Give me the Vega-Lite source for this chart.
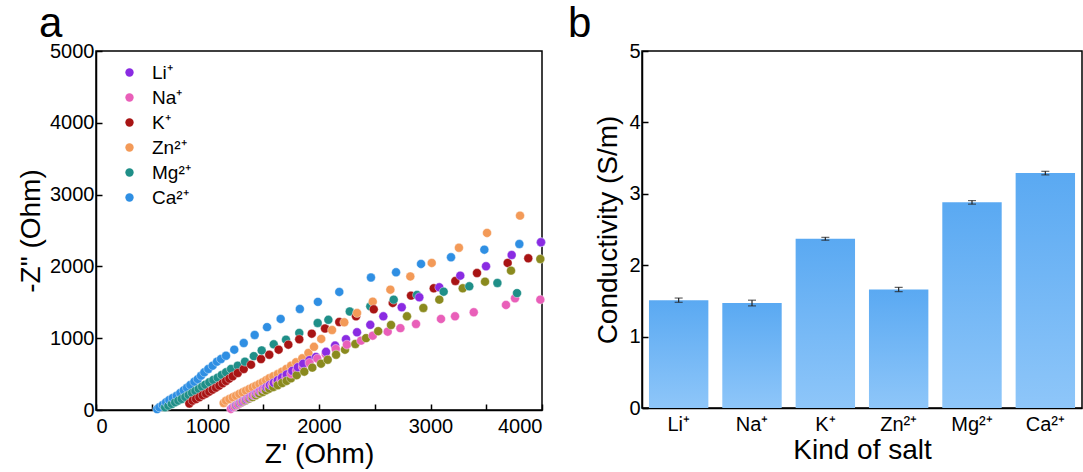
{
  "$schema": "https://vega.github.io/schema/vega-lite/v6.json",
  "background": "white",
  "autosize": {"type": "pad"},
  "padding": {"left": 16, "top": 2, "right": 0, "bottom": 0},
  "spacing": 100,
  "bounds": "flush",
  "config": {
    "font": "Liberation Sans",
    "view": {"stroke": "black", "strokeWidth": 1.5},
    "axis": {"zindex": 1, "domainColor": "black", "domainWidth": 1.5, "tickColor": "black", "tickWidth": 1.5, "tickSize": -6, "labelColor": "black", "labelFontSize": 20, "titleFontSize": 28, "titleFontWeight": "normal", "titleColor": "black", "grid": false, "labelPadding": 8},
    "axisX": {"labelPadding": 12},
    "title": {"fontSize": 42, "fontWeight": "normal", "color": "black", "anchor": "start", "frame": "group"}
  },
  "hconcat": [
    {
      "width": 446,
      "height": 359,
      "title": {"text": "a", "dx": -57, "offset": -5},
      "data": {"values": [
        {"ion":"Ca²⁺","zr":548,"zi":12},{"ion":"Ca²⁺","zr":568,"zi":38},{"ion":"Ca²⁺","zr":598,"zi":70},{"ion":"Ca²⁺","zr":628,"zi":107},{"ion":"Ca²⁺","zr":657,"zi":139},{"ion":"Ca²⁺","zr":688,"zi":167},{"ion":"Ca²⁺","zr":724,"zi":199},{"ion":"Ca²⁺","zr":756,"zi":237},{"ion":"Ca²⁺","zr":787,"zi":274},{"ion":"Ca²⁺","zr":816,"zi":311},{"ion":"Ca²⁺","zr":846,"zi":348},{"ion":"Ca²⁺","zr":882,"zi":394},{"ion":"Ca²⁺","zr":912,"zi":430},{"ion":"Ca²⁺","zr":942,"zi":478},{"ion":"Ca²⁺","zr":971,"zi":525},{"ion":"Ca²⁺","zr":1007,"zi":571},{"ion":"Ca²⁺","zr":1046,"zi":617},{"ion":"Ca²⁺","zr":1085,"zi":673},{"ion":"Ca²⁺","zr":1121,"zi":710},{"ion":"Ca²⁺","zr":1166,"zi":756},{"ion":"Ca²⁺","zr":1240,"zi":840},{"ion":"Ca²⁺","zr":1325,"zi":933},{"ion":"Ca²⁺","zr":1423,"zi":1045},{"ion":"Ca²⁺","zr":1534,"zi":1154},{"ion":"Ca²⁺","zr":1656,"zi":1268},{"ion":"Ca²⁺","zr":1828,"zi":1407},{"ion":"Ca²⁺","zr":1990,"zi":1506},{"ion":"Ca²⁺","zr":2182,"zi":1644},{"ion":"Ca²⁺","zr":2466,"zi":1845},{"ion":"Ca²⁺","zr":2691,"zi":1918},{"ion":"Ca²⁺","zr":2915,"zi":2034},{"ion":"Ca²⁺","zr":3184,"zi":2127},{"ion":"Ca²⁺","zr":3483,"zi":2233},{"ion":"Ca²⁺","zr":3797,"zi":2312},{"ion":"Ca²⁺","zr":3991,"zi":2336},
        {"ion":"Mg²⁺","zr":619,"zi":38},{"ion":"Mg²⁺","zr":649,"zi":60},{"ion":"Mg²⁺","zr":679,"zi":84},{"ion":"Mg²⁺","zr":709,"zi":107},{"ion":"Mg²⁺","zr":738,"zi":130},{"ion":"Mg²⁺","zr":768,"zi":153},{"ion":"Mg²⁺","zr":801,"zi":181},{"ion":"Mg²⁺","zr":831,"zi":209},{"ion":"Mg²⁺","zr":861,"zi":237},{"ion":"Mg²⁺","zr":891,"zi":265},{"ion":"Mg²⁺","zr":921,"zi":293},{"ion":"Mg²⁺","zr":951,"zi":325},{"ion":"Mg²⁺","zr":980,"zi":353},{"ion":"Mg²⁺","zr":1016,"zi":386},{"ion":"Mg²⁺","zr":1052,"zi":418},{"ion":"Mg²⁺","zr":1091,"zi":450},{"ion":"Mg²⁺","zr":1127,"zi":488},{"ion":"Mg²⁺","zr":1166,"zi":525},{"ion":"Mg²⁺","zr":1211,"zi":571},{"ion":"Mg²⁺","zr":1271,"zi":617},{"ion":"Mg²⁺","zr":1336,"zi":673},{"ion":"Mg²⁺","zr":1415,"zi":750},{"ion":"Mg²⁺","zr":1486,"zi":830},{"ion":"Mg²⁺","zr":1594,"zi":915},{"ion":"Mg²⁺","zr":1704,"zi":979},{"ion":"Mg²⁺","zr":1823,"zi":1073},{"ion":"Mg²⁺","zr":1988,"zi":1212},{"ion":"Mg²⁺","zr":2084,"zi":1256},{"ion":"Mg²⁺","zr":2276,"zi":1372},{"ion":"Mg²⁺","zr":2460,"zi":1444},{"ion":"Mg²⁺","zr":2670,"zi":1537},{"ion":"Mg²⁺","zr":2879,"zi":1602},{"ion":"Mg²⁺","zr":3118,"zi":1648},{"ion":"Mg²⁺","zr":3348,"zi":1723},{"ion":"Mg²⁺","zr":3600,"zi":1769},{"ion":"Mg²⁺","zr":3776,"zi":1628},
        {"ion":"K⁺","zr":837,"zi":90},{"ion":"K⁺","zr":867,"zi":130},{"ion":"K⁺","zr":897,"zi":153},{"ion":"K⁺","zr":927,"zi":177},{"ion":"K⁺","zr":957,"zi":205},{"ion":"K⁺","zr":987,"zi":227},{"ion":"K⁺","zr":1016,"zi":255},{"ion":"K⁺","zr":1046,"zi":283},{"ion":"K⁺","zr":1076,"zi":311},{"ion":"K⁺","zr":1106,"zi":339},{"ion":"K⁺","zr":1136,"zi":372},{"ion":"K⁺","zr":1166,"zi":404},{"ion":"K⁺","zr":1196,"zi":436},{"ion":"K⁺","zr":1226,"zi":469},{"ion":"K⁺","zr":1271,"zi":515},{"ion":"K⁺","zr":1325,"zi":571},{"ion":"K⁺","zr":1390,"zi":631},{"ion":"K⁺","zr":1480,"zi":710},{"ion":"K⁺","zr":1554,"zi":770},{"ion":"K⁺","zr":1638,"zi":840},{"ion":"K⁺","zr":1725,"zi":910},{"ion":"K⁺","zr":1823,"zi":985},{"ion":"K⁺","zr":1935,"zi":1063},{"ion":"K⁺","zr":2054,"zi":1135},{"ion":"K⁺","zr":2182,"zi":1226},{"ion":"K⁺","zr":2332,"zi":1305},{"ion":"K⁺","zr":2491,"zi":1402},{"ion":"K⁺","zr":2661,"zi":1491},{"ion":"K⁺","zr":2825,"zi":1593},{"ion":"K⁺","zr":3029,"zi":1695},{"ion":"K⁺","zr":3223,"zi":1797},{"ion":"K⁺","zr":3417,"zi":1908},{"ion":"K⁺","zr":3692,"zi":2048},{"ion":"K⁺","zr":3877,"zi":2113},
        {"ion":"Zn²⁺","zr":1145,"zi":98},{"ion":"Zn²⁺","zr":1166,"zi":130},{"ion":"Zn²⁺","zr":1196,"zi":153},{"ion":"Zn²⁺","zr":1226,"zi":177},{"ion":"Zn²⁺","zr":1256,"zi":199},{"ion":"Zn²⁺","zr":1285,"zi":223},{"ion":"Zn²⁺","zr":1315,"zi":246},{"ion":"Zn²⁺","zr":1345,"zi":269},{"ion":"Zn²⁺","zr":1375,"zi":293},{"ion":"Zn²⁺","zr":1405,"zi":316},{"ion":"Zn²⁺","zr":1435,"zi":339},{"ion":"Zn²⁺","zr":1465,"zi":362},{"ion":"Zn²⁺","zr":1495,"zi":386},{"ion":"Zn²⁺","zr":1525,"zi":414},{"ion":"Zn²⁺","zr":1554,"zi":442},{"ion":"Zn²⁺","zr":1590,"zi":469},{"ion":"Zn²⁺","zr":1630,"zi":501},{"ion":"Zn²⁺","zr":1668,"zi":534},{"ion":"Zn²⁺","zr":1707,"zi":571},{"ion":"Zn²⁺","zr":1749,"zi":617},{"ion":"Zn²⁺","zr":1794,"zi":664},{"ion":"Zn²⁺","zr":1850,"zi":720},{"ion":"Zn²⁺","zr":1905,"zi":794},{"ion":"Zn²⁺","zr":1955,"zi":880},{"ion":"Zn²⁺","zr":2020,"zi":990},{"ion":"Zn²⁺","zr":2117,"zi":1114},{"ion":"Zn²⁺","zr":2227,"zi":1221},{"ion":"Zn²⁺","zr":2341,"zi":1351},{"ion":"Zn²⁺","zr":2482,"zi":1509},{"ion":"Zn²⁺","zr":2640,"zi":1676},{"ion":"Zn²⁺","zr":2819,"zi":1860},{"ion":"Zn²⁺","zr":3011,"zi":2048},{"ion":"Zn²⁺","zr":3255,"zi":2260},{"ion":"Zn²⁺","zr":3507,"zi":2466},{"ion":"Zn²⁺","zr":3803,"zi":2707},
        {"ion":"Li⁺","zr":1230,"zi":40},{"ion":"Li⁺","zr":1260,"zi":68},{"ion":"Li⁺","zr":1290,"zi":95},{"ion":"Li⁺","zr":1320,"zi":122},{"ion":"Li⁺","zr":1350,"zi":150},{"ion":"Li⁺","zr":1380,"zi":178},{"ion":"Li⁺","zr":1410,"zi":205},{"ion":"Li⁺","zr":1440,"zi":232},{"ion":"Li⁺","zr":1470,"zi":262},{"ion":"Li⁺","zr":1500,"zi":290},{"ion":"Li⁺","zr":1530,"zi":318},{"ion":"Li⁺","zr":1560,"zi":348},{"ion":"Li⁺","zr":1595,"zi":380},{"ion":"Li⁺","zr":1630,"zi":415},{"ion":"Li⁺","zr":1668,"zi":452},{"ion":"Li⁺","zr":1710,"zi":495},{"ion":"Li⁺","zr":1760,"zi":545},{"ion":"Li⁺","zr":1810,"zi":596},{"ion":"Li⁺","zr":1858,"zi":645},{"ion":"Li⁺","zr":1915,"zi":695},{"ion":"Li⁺","zr":1973,"zi":740},{"ion":"Li⁺","zr":2063,"zi":810},{"ion":"Li⁺","zr":2144,"zi":897},{"ion":"Li⁺","zr":2242,"zi":985},{"ion":"Li⁺","zr":2341,"zi":1082},{"ion":"Li⁺","zr":2460,"zi":1186},{"ion":"Li⁺","zr":2577,"zi":1305},{"ion":"Li⁺","zr":2742,"zi":1431},{"ion":"Li⁺","zr":2900,"zi":1570},{"ion":"Li⁺","zr":3079,"zi":1709},{"ion":"Li⁺","zr":3267,"zi":1871},{"ion":"Li⁺","zr":3498,"zi":2002},{"ion":"Li⁺","zr":3728,"zi":2159},{"ion":"Li⁺","zr":3991,"zi":2336},
        {"ion":"Na⁺","zr":1210,"zi":15},{"ion":"Na⁺","zr":1240,"zi":45},{"ion":"Na⁺","zr":1270,"zi":72},{"ion":"Na⁺","zr":1300,"zi":100},{"ion":"Na⁺","zr":1330,"zi":127},{"ion":"Na⁺","zr":1360,"zi":155},{"ion":"Na⁺","zr":1390,"zi":182},{"ion":"Na⁺","zr":1420,"zi":208},{"ion":"Na⁺","zr":1450,"zi":236},{"ion":"Na⁺","zr":1480,"zi":262},{"ion":"Na⁺","zr":1510,"zi":290},{"ion":"Na⁺","zr":1545,"zi":320},{"ion":"Na⁺","zr":1580,"zi":352},{"ion":"Na⁺","zr":1620,"zi":388},{"ion":"Na⁺","zr":1660,"zi":424},{"ion":"Na⁺","zr":1705,"zi":463},{"ion":"Na⁺","zr":1750,"zi":505},{"ion":"Na⁺","zr":1800,"zi":550},{"ion":"Na⁺","zr":1855,"zi":600},{"ion":"Na⁺","zr":1915,"zi":655},{"ion":"Na⁺","zr":1985,"zi":715},{"ion":"Na⁺","zr":2060,"zi":780},{"ion":"Na⁺","zr":2150,"zi":850},{"ion":"Na⁺","zr":2250,"zi":910},{"ion":"Na⁺","zr":2377,"zi":966},{"ion":"Na⁺","zr":2482,"zi":1035},{"ion":"Na⁺","zr":2616,"zi":1091},{"ion":"Na⁺","zr":2730,"zi":1140},{"ion":"Na⁺","zr":2870,"zi":1198},{"ion":"Na⁺","zr":3094,"zi":1268},{"ion":"Na⁺","zr":3220,"zi":1305},{"ion":"Na⁺","zr":3388,"zi":1361},{"ion":"Na⁺","zr":3677,"zi":1463},{"ion":"Na⁺","zr":3758,"zi":1556},{"ion":"Na⁺","zr":3985,"zi":1537},
        {"ion":"other","zr":1256,"zi":60},{"ion":"other","zr":1285,"zi":88},{"ion":"other","zr":1315,"zi":112},{"ion":"other","zr":1345,"zi":136},{"ion":"other","zr":1375,"zi":160},{"ion":"other","zr":1405,"zi":180},{"ion":"other","zr":1435,"zi":205},{"ion":"other","zr":1465,"zi":228},{"ion":"other","zr":1495,"zi":250},{"ion":"other","zr":1525,"zi":274},{"ion":"other","zr":1555,"zi":297},{"ion":"other","zr":1590,"zi":320},{"ion":"other","zr":1630,"zi":345},{"ion":"other","zr":1670,"zi":375},{"ion":"other","zr":1710,"zi":405},{"ion":"other","zr":1749,"zi":441},{"ion":"other","zr":1800,"zi":485},{"ion":"other","zr":1868,"zi":534},{"ion":"other","zr":1940,"zi":590},{"ion":"other","zr":2018,"zi":645},{"ion":"other","zr":2078,"zi":700},{"ion":"other","zr":2153,"zi":770},{"ion":"other","zr":2233,"zi":840},{"ion":"other","zr":2326,"zi":919},{"ion":"other","zr":2422,"zi":1001},{"ion":"other","zr":2531,"zi":1098},{"ion":"other","zr":2646,"zi":1184},{"ion":"other","zr":2789,"zi":1305},{"ion":"other","zr":2936,"zi":1421},{"ion":"other","zr":3079,"zi":1537},{"ion":"other","zr":3289,"zi":1695},{"ion":"other","zr":3489,"zi":1787},{"ion":"other","zr":3722,"zi":1941},{"ion":"other","zr":3985,"zi":2103}
      ]},
      "mark": {"type": "circle", "size": 80, "opacity": 1, "stroke": "white", "strokeWidth": 0.4},
      "encoding": {
        "x": {"field": "zr", "type": "quantitative", "title": "Z' (Ohm)", "scale": {"domain": [0, 4000], "nice": false}, "axis": {"values": [0,500,1000,1500,2000,2500,3000,3500,4000], "format": "d", "titlePadding": 4}},
        "y": {"field": "zi", "type": "quantitative", "title": "-Z\" (Ohm)", "scale": {"domain": [0, 5000], "nice": false}, "axis": {"values": [0,1000,2000,3000,4000,5000], "format": "d", "titlePadding": 4}},
        "color": {"field": "ion", "type": "nominal",
          "scale": {"domain": ["Li⁺","Na⁺","K⁺","Zn²⁺","Mg²⁺","Ca²⁺","other"], "range": ["#8a2be2","#e95fb9","#a81414","#f39a58","#1f8f88","#2f8fe3","#8a8a1e"]},
          "legend": {"values": ["Li⁺","Na⁺","K⁺","Zn²⁺","Mg²⁺","Ca²⁺"], "title": null, "orient": "none", "legendX": 24, "legendY": 12, "padding": 0, "labelFontSize": 19, "symbolSize": 70, "symbolType": "circle", "rowPadding": 5, "labelOffset": 13, "symbolStrokeWidth": 0}
        },
        "order": {"field": "zr", "type": "quantitative"}
      }
    },
    {
      "width": 440,
      "height": 357,
      "title": {"text": "b", "dx": -74, "offset": -5},
      "data": {"values": [
        {"ion":"Li⁺","cond":1.51,"lo":1.48,"hi":1.54},
        {"ion":"Na⁺","cond":1.47,"lo":1.43,"hi":1.51},
        {"ion":"K⁺","cond":2.37,"lo":2.35,"hi":2.39},
        {"ion":"Zn²⁺","cond":1.66,"lo":1.63,"hi":1.69},
        {"ion":"Mg²⁺","cond":2.88,"lo":2.855,"hi":2.905},
        {"ion":"Ca²⁺","cond":3.29,"lo":3.265,"hi":3.315}
      ]},
      "encoding": {
        "x": {"field": "ion", "type": "nominal", "sort": null, "title": "Kind of salt", "scale": {"paddingInner": 0.19, "paddingOuter": 0.095}, "axis": {"labelAngle": 0, "titlePadding": 2}}
      },
      "layer": [
        {
          "mark": {"type": "bar", "color": {"gradient": "linear", "x1": 0, "y1": 0, "x2": 0, "y2": 1, "stops": [{"offset": 0, "color": "#5aa9f2"}, {"offset": 1, "color": "#8ec6f9"}]}},
          "encoding": {
            "y": {"field": "cond", "type": "quantitative", "title": "Conductivity (S/m)", "scale": {"domain": [0, 5], "nice": false}, "axis": {"values": [0,1,2,3,4,5], "format": "d", "titlePadding": 6}}
          }
        },
        {
          "mark": {"type": "errorbar", "ticks": {"size": 8, "color": "#222", "thickness": 1.2}, "rule": {"color": "#222", "strokeWidth": 1.2}},
          "encoding": {
            "y": {"field": "lo", "type": "quantitative", "title": "Conductivity (S/m)"},
            "y2": {"field": "hi"}
          }
        }
      ]
    }
  ]
}
